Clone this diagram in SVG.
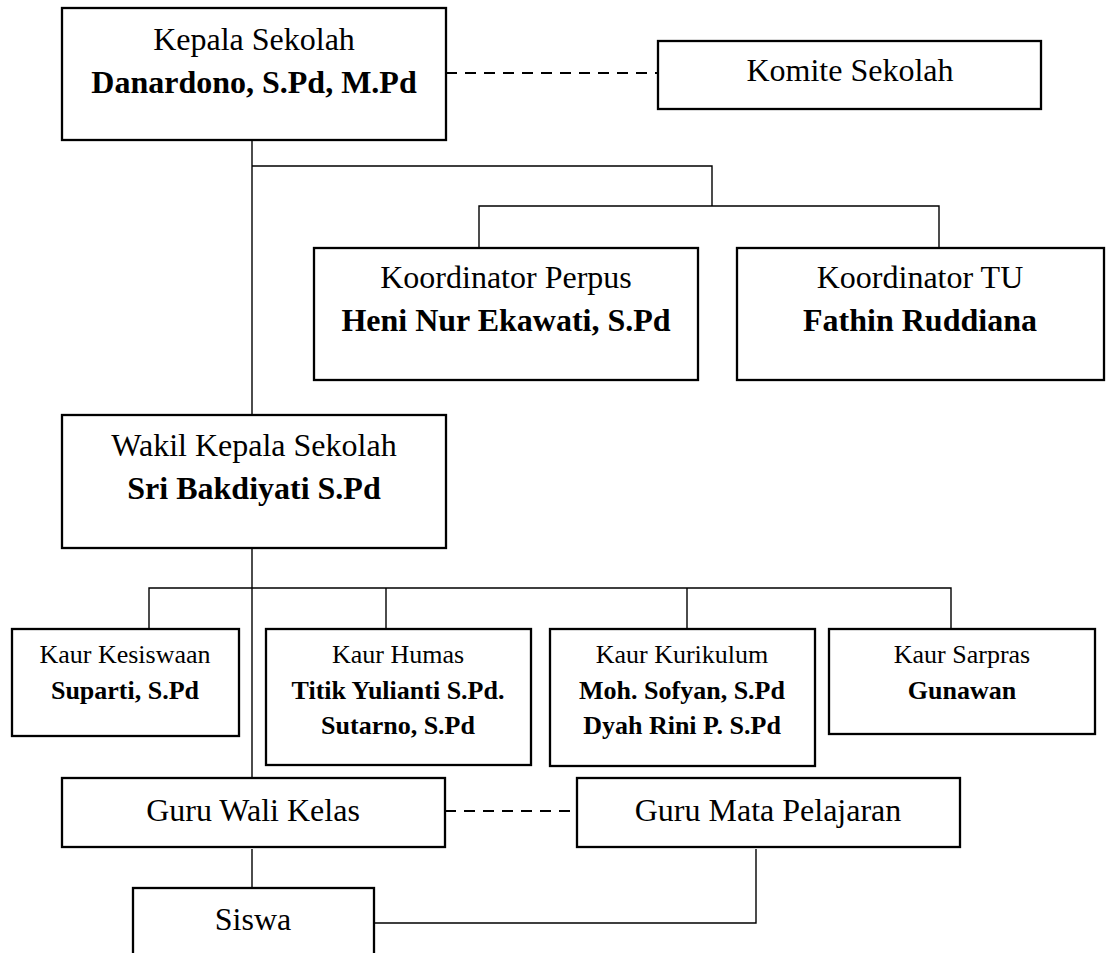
<svg xmlns="http://www.w3.org/2000/svg" width="1119" height="953" viewBox="0 0 1119 953">
<style>
.box{fill:#fff;stroke:#000;stroke-width:2.3}
.ln{fill:none;stroke:#000;stroke-width:1.4}
.dash{fill:none;stroke:#000;stroke-width:2;stroke-dasharray:11 8}
text{font-family:"Liberation Serif","Times New Roman",serif;fill:#000;text-anchor:middle}
.t{font-size:32px}
.tb{font-size:32px;font-weight:bold}
.k{font-size:26px}
.kb{font-size:26px;font-weight:bold}
</style>
<rect width="1119" height="953" fill="#fff"/>
<g id="connectors">
<path class="ln" d="M252 140V783"/>
<path class="ln" d="M252 166H712V206"/>
<path class="ln" d="M479 248V206H939V248"/>
<path class="ln" d="M149 629V588H951V629"/>
<path class="ln" d="M386 588V629"/>
<path class="ln" d="M687 588V629"/>
<path class="ln" d="M252 849V888"/>
<path class="ln" d="M756 849V923H374"/>
<path class="dash" d="M446 73H658"/>
<path class="dash" d="M445 811H577"/>
</g>
<g id="kepala">
<rect class="box" x="62" y="8" width="384" height="132"/>
<text class="t" x="254" y="50">Kepala Sekolah</text>
<text class="tb" x="254" y="93">Danardono, S.Pd, M.Pd</text>
</g>
<g id="komite">
<rect class="box" x="658" y="41" width="383" height="68"/>
<text class="t" x="850" y="81">Komite Sekolah</text>
</g>
<g id="perpus">
<rect class="box" x="314" y="248" width="384" height="132"/>
<text class="t" x="506" y="288">Koordinator Perpus</text>
<text class="tb" x="506" y="331">Heni Nur Ekawati, S.Pd</text>
</g>
<g id="tu">
<rect class="box" x="737" y="248" width="367" height="132"/>
<text class="t" x="920" y="288">Koordinator TU</text>
<text class="tb" x="920" y="331">Fathin Ruddiana</text>
</g>
<g id="wakil">
<rect class="box" x="62" y="415" width="384" height="133"/>
<text class="t" x="254" y="456">Wakil Kepala Sekolah</text>
<text class="tb" x="254" y="499">Sri Bakdiyati S.Pd</text>
</g>
<g id="kesiswaan">
<rect class="box" x="12" y="629" width="227" height="107"/>
<text class="k" x="125" y="663">Kaur Kesiswaan</text>
<text class="kb" x="125" y="699">Suparti, S.Pd</text>
</g>
<g id="humas">
<rect class="box" x="266" y="629" width="265" height="136"/>
<text class="k" x="398" y="663">Kaur Humas</text>
<text class="kb" x="398" y="699">Titik Yulianti S.Pd.</text>
<text class="kb" x="398" y="734">Sutarno, S.Pd</text>
</g>
<g id="kurikulum">
<rect class="box" x="550" y="629" width="265" height="137"/>
<text class="k" x="682" y="663">Kaur Kurikulum</text>
<text class="kb" x="682" y="699">Moh. Sofyan, S.Pd</text>
<text class="kb" x="682" y="734">Dyah Rini P. S.Pd</text>
</g>
<g id="sarpras">
<rect class="box" x="829" y="629" width="266" height="105"/>
<text class="k" x="962" y="663">Kaur Sarpras</text>
<text class="kb" x="962" y="699">Gunawan</text>
</g>
<g id="guru-wali">
<rect class="box" x="62" y="778" width="383" height="69"/>
<text class="t" x="253" y="821">Guru Wali Kelas</text>
</g>
<g id="guru-mapel">
<rect class="box" x="577" y="778" width="383" height="69"/>
<text class="t" x="768" y="821">Guru Mata Pelajaran</text>
</g>
<g id="siswa">
<rect class="box" x="133" y="888" width="241" height="80"/>
<text class="t" x="253" y="930">Siswa</text>
</g>
</svg>
